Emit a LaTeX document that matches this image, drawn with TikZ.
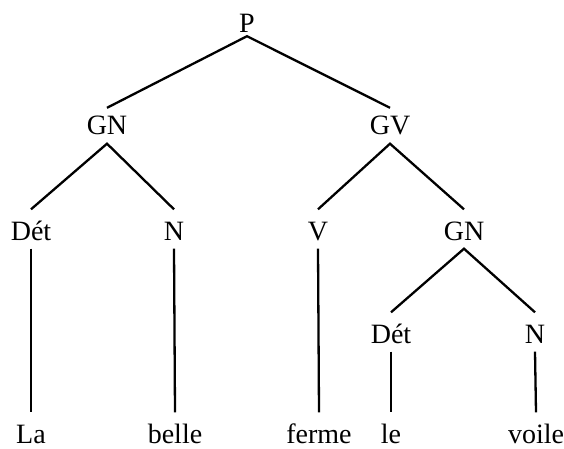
\documentclass[tikz,border=0pt]{standalone}
\usepackage{fontspec}
\setmainfont{Liberation Serif}
\tikzset{
    cat/.style={anchor=base,inner xsep=0pt,inner ysep=8.5pt,text height=22pt,text depth=0pt,font=\fontsize{28}{28}\selectfont},
    branch/.style={line width=2.3pt}
}

\begin{document}
\begin{tikzpicture}[x=1pt,y=-1pt]
                        \useasboundingbox (0,0) rectangle (564,449);
                        % categories
                            \node[cat,inner ysep=3pt] (p) at (247,33) {P};
                            \node[cat,text height=18.5pt] (gn) at (107,135) {GN};
                            \node[cat,text height=18.5pt] (gv) at (390,135) {GV};
                            \node[cat] (det) at (31,240) {Dét};
                            \node[cat] (n) at (174,240) {N};
                            \node[cat] (v) at (318,240) {V};
                            \node[cat] (gn2) at (464,240) {GN};
                            \node[cat] (det2) at (391,343) {Dét};
                            \node[cat] (n2) at (535,343) {N};
                        % words
                            \node[cat] (la) at (31,443) {La};
                            \node[cat] (belle) at (175,443) {belle};
                            \node[cat] (ferme) at (319,443) {ferme};
                            \node[cat] (le) at (391,443) {le};
                            \node[cat] (voile) at (536,443) {voile};
                        %branches
                        \draw[branch] (gn.north) -- (p.south) -- (gv.north);
                        \draw[branch] (det.north) -- (gn.south) -- (n.north);
                        \draw[branch] (v.north) -- (gv.south) -- (gn2.north);
                        \draw[branch] (det2.north) -- (gn2.south) -- (n2.north);
                        \draw[branch] (det.south) -- (la.north);
                        \draw[branch] (n.south) -- (belle.north);
                        \draw[branch] (v.south) -- (ferme.north);
                        \draw[branch] (det2.south) -- (le.north);
                        \draw[branch] (n2.south) -- (voile.north);
                        \end{tikzpicture}
\end{document}
